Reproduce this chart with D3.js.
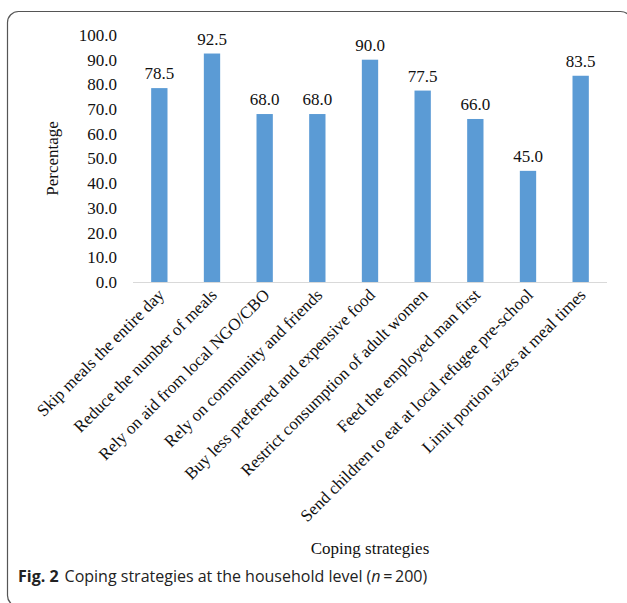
<!DOCTYPE html>
<html lang="en">
<head>
<meta charset="UTF-8">
<title>Coping strategies</title>
<style>
  body { margin: 0; background: #fff; }
  svg { display: block; }
</style>
</head>
<body>
<div id="chart"></div>
<script src="https://d3js.org/d3.v7.min.js"></script>
<script>
const strategies = [
  "Skip meals the entire day",
  "Reduce the number of meals",
  "Rely on aid from local NGO/CBO",
  "Rely on community and friends",
  "Buy less preferred and expensive food",
  "Restrict consumption of adult women",
  "Feed the employed man first",
  "Send children to eat at local refugee pre-school",
  "Limit portion sizes at meal times"
];
const percentages = [78.5, 92.5, 68.0, 68.0, 90.0, 77.5, 66.0, 45.0, 83.5];
const yTicks = [0, 10, 20, 30, 40, 50, 60, 70, 80, 90, 100];

const W = 627, H = 603;
const plot = { left: 133, right: 607, top: 35, bottom: 282 };
const serif = "'Liberation Serif', 'Times New Roman', serif";
const fs = 17;

const svg = d3.select("#chart").append("svg")
  .attr("width", W)
  .attr("height", H);

// frame
svg.append("rect")
  .attr("x", 7.5).attr("y", 11.5)
  .attr("width", 624).attr("height", 595)
  .attr("rx", 11)
  .attr("fill", "none")
  .attr("stroke", "#555")
  .attr("stroke-width", 1.2);

const x = d3.scaleBand()
  .domain(strategies)
  .range([plot.left, plot.right])
  .paddingInner(0.69)
  .paddingOuter(0.345);

const y = d3.scaleLinear().domain([0, 100]).range([plot.bottom, plot.top]);

// y axis labels
svg.append("g")
  .attr("transform", `translate(${plot.left},0)`)
  .call(d3.axisLeft(y).tickValues(yTicks).tickFormat(d3.format(".1f")).tickSize(0).tickPadding(16))
  .call(g => g.select(".domain").remove())
  .selectAll("text")
  .attr("font-family", serif)
  .attr("font-size", fs)
  .attr("fill", "#111");

// baseline
svg.append("line")
  .attr("x1", plot.left).attr("x2", plot.right)
  .attr("y1", y(0) + 0.5).attr("y2", y(0) + 0.5)
  .attr("stroke", "#d9d9d9")
  .attr("stroke-width", 1);

// bars
svg.selectAll("rect.bar")
  .data(percentages)
  .join("rect")
  .attr("class", "bar")
  .attr("x", (d, i) => x(strategies[i]))
  .attr("width", x.bandwidth())
  .attr("y", d => y(d))
  .attr("height", d => y(0) - y(d))
  .attr("fill", "#5b9bd5");

// value labels
svg.selectAll("text.val")
  .data(percentages)
  .join("text")
  .attr("class", "val")
  .attr("x", (d, i) => x(strategies[i]) + x.bandwidth() / 2)
  .attr("y", d => y(d) - 9)
  .attr("text-anchor", "middle")
  .attr("font-family", serif)
  .attr("font-size", fs)
  .attr("fill", "#111")
  .text(d => d3.format(".1f")(d));

// category labels
svg.selectAll("text.cat")
  .data(strategies)
  .join("text")
  .attr("class", "cat")
  .attr("text-anchor", "end")
  .attr("transform", d => `translate(${x(d) + x.bandwidth() / 2 + 6},${plot.bottom + 14}) rotate(-45)`)
  .attr("font-family", serif)
  .attr("font-size", fs)
  .attr("fill", "#111")
  .text(d => d);

// axis titles
svg.append("text")
  .attr("transform", `translate(58,${(plot.top + plot.bottom) / 2}) rotate(-90)`)
  .attr("text-anchor", "middle")
  .attr("font-family", serif)
  .attr("font-size", fs)
  .attr("fill", "#111")
  .text("Percentage");

svg.append("text")
  .attr("x", 370).attr("y", 554)
  .attr("text-anchor", "middle")
  .attr("font-family", serif)
  .attr("font-size", fs)
  .attr("fill", "#111")
  .text("Coping strategies");

// caption
const cap = svg.append("text")
  .attr("x", 18).attr("y", 582)
  .attr("font-family", "'Open Sans', 'Noto Sans', sans-serif")
  .attr("font-size", 16)
  .attr("fill", "#222");
cap.append("tspan").attr("font-weight", "bold").text("Fig. 2");
cap.append("tspan").attr("dx", 6).text("Coping strategies at the household level (");
cap.append("tspan").attr("font-style", "italic").text("n");
cap.append("tspan").text("\u2009=\u2009200)");
</script>
</body>
</html>
